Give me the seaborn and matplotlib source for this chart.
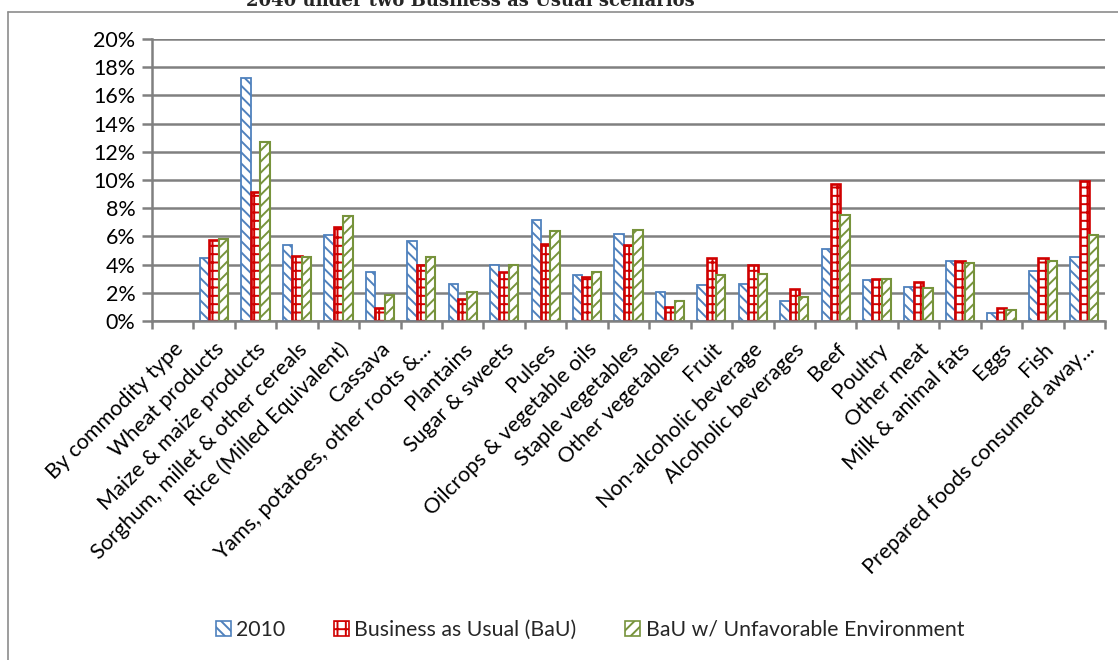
import numpy as np
import pandas as pd
import matplotlib
matplotlib.use("Agg")
import matplotlib.pyplot as plt
from matplotlib.patches import Patch
from matplotlib.lines import Line2D
import seaborn as sns

categories = [
    "By commodity type", "Wheat products", "Maize & maize products",
    "Sorghum, millet & other cereals", "Rice (Milled Equivalent)", "Cassava",
    "Yams, potatoes, other roots &...", "Plantains", "Sugar & sweets", "Pulses",
    "Oilcrops & vegetable oils", "Staple vegetables", "Other vegetables", "Fruit",
    "Non-alcoholic beverage", "Alcoholic beverages", "Beef", "Poultry",
    "Other meat", "Milk & animal fats", "Eggs", "Fish",
    "Prepared foods consumed away...",
]

series = ["2010", "Business as Usual (BaU)", "BaU w/ Unfavorable Environment"]

share_2010 = [np.nan, 4.45, 17.2, 5.38, 6.07, 3.44, 5.64, 2.61, 3.96, 7.18,
              3.27, 6.16, 2.09, 2.56, 2.61, 1.42, 5.14, 2.89, 2.44, 4.22,
              0.59, 3.55, 4.57]
share_bau = [np.nan, 5.78, 9.15, 4.60, 6.66, 0.95, 3.98, 1.56, 3.48, 5.45,
             3.10, 5.38, 1.00, 4.45, 4.00, 2.30, 9.72, 3.00, 2.80, 4.27,
             0.90, 4.50, 9.95]
share_bau_unfav = [np.nan, 5.80, 12.7, 4.53, 7.42, 1.85, 4.57, 2.04, 3.96, 6.35,
                   3.50, 6.42, 1.40, 3.27, 3.32, 1.71, 7.49, 2.99, 2.32, 4.10,
                   0.80, 4.27, 6.11]

y_ticks = [0, 2, 4, 6, 8, 10, 12, 14, 16, 18, 20]

df = pd.DataFrame({
    "commodity": categories * 3,
    "scenario": np.repeat(series, len(categories)),
    "share": share_2010 + share_bau + share_bau_unfav,
})

edge_colors = ["#4F81BD", "#D00000", "#77933C"]
hatches = ["\\\\\\", "++", "///"]
edge_widths = [1.3, 1.9, 1.5]
grid_gray = "#808080"

sns.set_theme(style="white")
plt.rcParams["font.family"] = ["Lato", "DejaVu Sans"]
plt.rcParams["hatch.linewidth"] = 1.4

fig = plt.figure(figsize=(11.18, 6.6), dpi=100)
ax = fig.add_axes([152 / 1118, 1 - 321 / 660, (1105 - 152) / 1118, (321 - 39) / 660])

sns.barplot(data=df, x="commodity", y="share", hue="scenario",
            order=categories, hue_order=series, width=0.68,
            dodge=True, ax=ax, legend=False, errorbar=None)

for cont, ec, h, lw in zip(ax.containers, edge_colors, hatches, edge_widths):
    for bar in cont:
        bar.set_facecolor("white")
        bar.set_edgecolor(ec)
        bar.set_hatch(h)
        bar.set_linewidth(lw)

ax.set_xlim(-0.5, len(categories) - 0.5)
ax.set_ylim(0, 20)
ax.set_yticks(y_ticks)
ax.set_yticklabels([f"{v}%" for v in y_ticks])
ax.yaxis.grid(True, color=grid_gray, linewidth=1.8)
ax.set_axisbelow(True)
ax.set_xlabel("")
ax.set_ylabel("")

for side in ["top", "right"]:
    ax.spines[side].set_visible(False)
for side in ["left", "bottom"]:
    ax.spines[side].set_color(grid_gray)
    ax.spines[side].set_linewidth(1.8)

ax.tick_params(axis="y", which="major", direction="out", length=7, width=1.8,
               color=grid_gray, labelsize=15.5, labelcolor="black", pad=5, left=True)
ax.set_xticks(range(len(categories)))
ax.set_xticklabels(categories, rotation=45, ha="right", rotation_mode="anchor",
                   fontsize=15.5, color="black")
ax.tick_params(axis="x", which="major", length=0, pad=13)
ax.set_xticks(np.arange(-0.5, len(categories), 1.0), minor=True)
ax.tick_params(axis="x", which="minor", direction="out", length=6, width=1.8,
               color=grid_gray, bottom=True)

handles = [Patch(facecolor="white", edgecolor=ec, hatch=h, linewidth=1.2)
           for ec, h in zip(edge_colors, hatches)]
fig.legend(handles, series, loc="center", bbox_to_anchor=(590 / 1118, 1 - 630 / 660),
           ncol=3, frameon=False, fontsize=15.3, handlelength=0.7, handleheight=0.7,
           handletextpad=0.25, columnspacing=2.3)

# outer chart border (left and top edges)
fig.add_artist(Line2D([8 / 1118, 8 / 1118], [0, 1 - 12 / 660],
                      transform=fig.transFigure, color="#8C8C8C", linewidth=1.2))
fig.add_artist(Line2D([8 / 1118, 1], [1 - 12 / 660, 1 - 12 / 660],
                      transform=fig.transFigure, color="#8C8C8C", linewidth=1.2))

fig.text(470 / 1118, 1 - 6 / 660, "2040 under two Business as Usual scenarios",
         ha="center", va="baseline", fontsize=13, fontweight="bold",
         family=["DejaVu Serif"])

fig.savefig("out.png", dpi=100, facecolor="white")
